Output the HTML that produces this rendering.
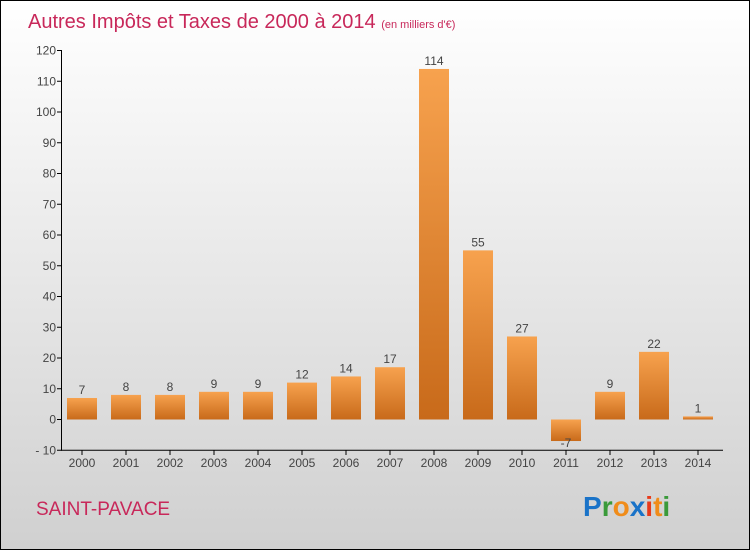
<!DOCTYPE html>
<html><head><meta charset="utf-8"><style>
body{margin:0}
#c{width:750px;height:550px;position:relative;box-sizing:border-box;border:1px solid #000;background:linear-gradient(#ffffff,#d0d0d0);font-family:"Liberation Sans",sans-serif;overflow:hidden}
</style></head><body>
<div id="c">
<svg id="s" width="748" height="548">
<defs><linearGradient id="bg" x1="0" y1="0" x2="0" y2="1"><stop offset="0" stop-color="#f7a24e"/><stop offset="1" stop-color="#c86a1a"/></linearGradient></defs>
<text x="27" y="27" font-size="20" fill="#c8285a">Autres Impôts et Taxes de 2000 à 2014 <tspan font-size="11">(en milliers d'€)</tspan></text>
<text x="35" y="514" font-size="19" fill="#c8285a">SAINT-PAVACE</text>
<text x="582" y="515" font-size="28" font-weight="bold"><tspan fill="#1a73c8">P</tspan><tspan fill="#3a9a3a">r</tspan><tspan fill="#f08c1a">o</tspan><tspan fill="#1a73c8">x</tspan><tspan fill="#e83a1a">i</tspan><tspan fill="#f08c1a">t</tspan><tspan fill="#3a9a3a">i</tspan></text>
<g id="g"></g>
</svg></div>
<script>
const years=["2000","2001","2002","2003","2004","2005","2006","2007","2008","2009","2010","2011","2012","2013","2014"];
const values=[7,8,8,9,9,12,14,17,114,55,27,-7,9,22,1];
const yTicks=[-10,0,10,20,30,40,50,60,70,80,90,100,110,120];
const NS="http://www.w3.org/2000/svg",g=document.getElementById('g');
const y=v=>418.5-(v)*(369/120);
const x=i=>81+i*44;
function el(t,a,txt){const e=document.createElementNS(NS,t);for(const k in a)e.setAttribute(k,a[k]);if(txt!==undefined)e.textContent=txt;g.appendChild(e);return e;}
yTicks.forEach(t=>{
 const l=el('line',{x1:56,x2:61,y1:y(t),y2:y(t),stroke:'#000'});
 
 const tx=el('text',{x:55,y:y(t)+4,'font-size':12,fill:'#444','text-anchor':'end'},t===-10?'- 10':t);
 
});
years.forEach((yr,i)=>{
 const v=values[i];
 const r=el('rect',{x:x(i)-15,y:Math.min(y(v),y(0)),width:30,height:Math.abs(y(v)-y(0)),fill:'url(#bg)'});
 
 const vl=el('text',{x:x(i),y:(v>=0?y(v):y(0)+Math.abs(y(v)-y(0)))-4,'font-size':12,fill:'#444','text-anchor':'middle'},v);
 if(v<0)vl.setAttribute('y',y(v)+6);
 
 const tk=el('line',{x1:x(i),x2:x(i),y1:449,y2:454,stroke:'#000'});
 
 const xl=el('text',{x:x(i),y:466,'font-size':12,fill:'#444','text-anchor':'middle'},yr);
 
});
const ya=el('line',{x1:60.5,x2:60.5,y1:y(120),y2:y(-10),stroke:'#000'});

const xa=el('line',{x1:60,x2:722,y1:y(-10),y2:y(-10),stroke:'#000'});

</script>
</body></html>
